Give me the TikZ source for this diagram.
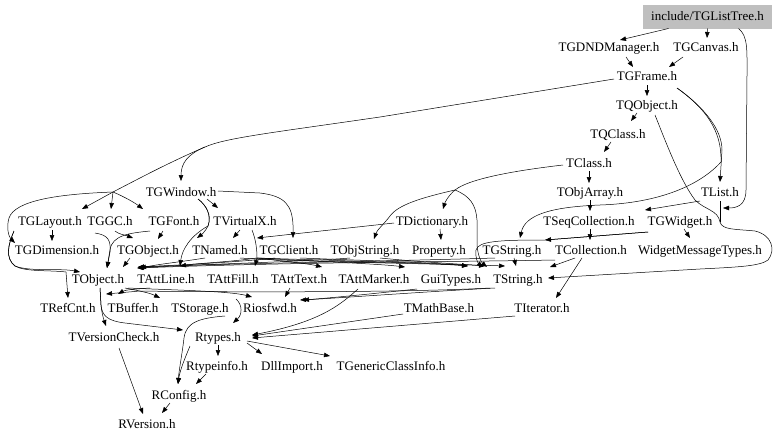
\documentclass[tikz,border=0pt]{standalone}
\usepackage{fontspec}
\setmainfont{Liberation Serif}
\usetikzlibrary{arrows.meta}
\definecolor{grey75}{HTML}{BFBFBF}
\newcommand\nd[3]{([shift={(#2,#3)}]#1.center)}
\begin{document}
\begin{tikzpicture}[x=1pt,y=-1pt,
 lbl/.style={inner sep=0pt,text height=8.6pt,text depth=0pt,font=\fontsize{13}{15}\selectfont},
 e/.style={line width=0.5pt,-{Triangle[length=6pt,width=4.5pt]}},
 ln/.style={line width=0.5pt}]
\useasboundingbox (0,0) rectangle (779,442);
\fill[white] (0,0) rectangle (779,442);
% nodes
\node[lbl,fill=grey75,minimum width=129pt,minimum height=24pt] (LT) at (707.5,16.5) {include/TGListTree.h};
\node[lbl] (DND) at (609,47) {TGDNDManager.h};
\node[lbl] (CAN) at (706,47) {TGCanvas.h};
\node[lbl] (FR) at (647,76) {TGFrame.h};
\node[lbl] (QO) at (647,105) {TQObject.h};
\node[lbl] (QC) at (618,134) {TQClass.h};
\node[lbl] (CL) at (589,163) {TClass.h};
\node[lbl] (OA) at (590,192) {TObjArray.h};
\node[lbl] (LI) at (720,192) {TList.h};
\node[lbl] (WIN) at (181,192) {TGWindow.h};
\node[lbl] (LAY) at (50,221) {TGLayout.h};
\node[lbl] (GC) at (110,221) {TGGC.h};
\node[lbl] (FONT) at (174,221) {TGFont.h};
\node[lbl] (VX) at (245,221) {TVirtualX.h};
\node[lbl] (DICT) at (432,221) {TDictionary.h};
\node[lbl] (SEQ) at (589,221) {TSeqCollection.h};
\node[lbl] (WID) at (680,221) {TGWidget.h};
\node[lbl] (DIM) at (57,250) {TGDimension.h};
\node[lbl] (GOBJ) at (148,250) {TGObject.h};
\node[lbl] (NAM) at (220,250) {TNamed.h};
\node[lbl] (CLI) at (289,250) {TGClient.h};
\node[lbl] (OSTR) at (365,250) {TObjString.h};
\node[lbl] (PROP) at (439,250) {Property.h};
\node[lbl] (GSTR) at (512,250) {TGString.h};
\node[lbl] (COLL) at (591,250) {TCollection.h};
\node[lbl] (WMT) at (700,250) {WidgetMessageTypes.h};
\node[lbl] (OBJ) at (98,279) {TObject.h};
\node[lbl] (ALINE) at (166,279) {TAttLine.h};
\node[lbl] (AFILL) at (233,279) {TAttFill.h};
\node[lbl] (ATEXT) at (299,279) {TAttText.h};
\node[lbl] (AMARK) at (374,279) {TAttMarker.h};
\node[lbl] (GUI) at (451,279) {GuiTypes.h};
\node[lbl] (STR) at (518,279) {TString.h};
\node[lbl] (REF) at (68,308) {TRefCnt.h};
\node[lbl] (BUF) at (133,308) {TBuffer.h};
\node[lbl] (STO) at (200,308) {TStorage.h};
\node[lbl] (RIO) at (270,308) {Riosfwd.h};
\node[lbl] (MATH) at (439,308) {TMathBase.h};
\node[lbl] (ITER) at (542,308) {TIterator.h};
\node[lbl] (VC) at (114,337) {TVersionCheck.h};
\node[lbl] (RT) at (218,337) {Rtypes.h};
\node[lbl] (RTI) at (217,366) {Rtypeinfo.h};
\node[lbl] (DLL) at (292,366) {DllImport.h};
\node[lbl] (GCI) at (391,366) {TGenericClassInfo.h};
\node[lbl] (RC) at (179,395) {RConfig.h};
\node[lbl] (RV) at (147,424) {RVersion.h};
% shared route points
\coordinate (tk) at (205,147);
\coordinate (tj) at (113,192);
\coordinate (vj) at (257,258);
\coordinate (cj) at (455,190);
\coordinate (rj) at (720,222);
% top
\draw[e] \nd{LT}{-39}{12} -- \nd{DND}{11}{-7};
\draw[e] \nd{LT}{0}{12} -- \nd{CAN}{1}{-9};
\draw[e] \nd{LT}{31}{12} .. controls (748,36) and (747,50) .. (747,75) -- (746,190) .. controls (746,206) and (736,208) .. \nd{WID}{43}{-13};
\draw[e] \nd{DND}{17}{10} -- \nd{FR}{-14}{-9};
\draw[e] \nd{CAN}{-23}{10} -- \nd{FR}{22}{-9};
\draw[e] \nd{FR}{0}{9} -- \nd{QO}{0}{-9};
% trunk from TGFrame
\draw[e] \nd{FR}{-33}{3} -- (380,117) .. controls (270,133) and (225,138) .. (tk) .. controls (188,154) and (181,163) .. \nd{WIN}{0}{-11};
\draw[ln] (tk) .. controls (170,162) and (140,178) .. (tj);
\draw[e] (tj) -- \nd{LAY}{32}{-12};
\draw[e] (tj) -- \nd{GC}{1}{-12};
\draw[e] (tj) .. controls (125,197) and (135,203) .. \nd{FONT}{-31}{-12};
\draw[e] (tj) .. controls (60,194) and (15,200) .. (9,218) .. controls (6,228) and (9,237) .. \nd{DIM}{-42}{-7};
\draw[e] \nd{FR}{30}{12} .. controls (705,108) and (722,130) .. (722,150) -- \nd{LI}{0}{-10};
\draw[e] \nd{FR}{30}{12} .. controls (705,108) and (722,130) .. (721,162) .. controls (700,185) and (660,203) .. (600,205) .. controls (550,207) and (525,215) .. \nd{GSTR}{8}{-12};
\draw[e] \nd{QO}{-10}{8} -- \nd{QC}{13}{-13};
\draw[e] \nd{QC}{-7}{8} -- \nd{CL}{15}{-11};
\draw[e] \nd{CL}{0}{8} -- \nd{OA}{-1}{-9};
\draw[ln] \nd{CL}{-26}{2} .. controls (520,170) and (470,178) .. (cj);
\draw[e] (cj) .. controls (449,195) and (445,202) .. \nd{DICT}{11}{-12};
\draw[e] (cj) .. controls (420,198) and (398,205) .. (390,216) .. controls (384,224) and (377,230) .. \nd{OSTR}{9}{-11};
\draw[e] (cj) .. controls (470,196) and (476,205) .. (477,220) -- (477,245) .. controls (478,256) and (481,262) .. \nd{STR}{-31}{-12};
\draw[e] \nd{OA}{0}{8} -- \nd{SEQ}{1}{-10};
\draw[e] \nd{LI}{-20}{9} -- \nd{SEQ}{56}{-11};
\draw[ln] \nd{LI}{0}{9} -- (rj);
\draw[e] (rj) .. controls (722,230) and (735,229) .. (755,231) .. controls (772,235) and (776,250) .. (768,260) .. controls (760,266) and (740,267) .. (700,269) -- \nd{STR}{30}{-1};
\draw[ln] \nd{QO}{8}{10} .. controls (665,140) and (680,180) .. (695,200) .. controls (705,210) and (718,210) .. (rj);
\draw[e] \nd{WID}{-32}{11} -- \nd{GSTR}{33}{-10};
\draw[e] \nd{WID}{-32}{11} -- (545,240) .. controls (500,240) and (478,241) .. (476,250) .. controls (475,258) and (478,263) .. \nd{STR}{-35}{-12};
\draw[e] \nd{WID}{4}{8} -- \nd{WMT}{-10}{-12};
\draw[e] \nd{SEQ}{1}{8} -- \nd{COLL}{-1}{-10};
\draw[e] \nd{COLL}{-16}{8} -- \nd{STR}{32}{-12};
\draw[e] \nd{COLL}{-9}{8} -- \nd{ITER}{14}{-10};
% bundle to TObject row
\draw[e] \nd{COLL}{-36}{10} .. controls (450,262) and (300,262) .. \nd{OBJ}{39}{-11};
\draw[e] \nd{GSTR}{-17}{8} .. controls (400,261) and (250,263) .. \nd{OBJ}{40}{-12};
\draw[e] \nd{OSTR}{-15}{8} .. controls (300,262) and (200,264) .. \nd{OBJ}{40}{-11};
\draw[e] \nd{OSTR}{15}{8} .. controls (420,262) and (460,264) .. \nd{STR}{-33}{-13};
\draw[e] \nd{CLI}{-14}{8} .. controls (240,262) and (180,265) .. \nd{OBJ}{40}{-12};
\draw[e] \nd{CLI}{11}{8} .. controls (380,261) and (440,263) .. \nd{GUI}{17}{-13};
\draw[e] \nd{NAM}{-15}{8} .. controls (180,262) and (160,264) .. \nd{OBJ}{42}{-11};
\draw[e] \nd{NAM}{20}{8} .. controls (300,262) and (450,264) .. \nd{STR}{-13}{-13};
\draw[e] \nd{GOBJ}{-18}{8} -- \nd{OBJ}{25}{-12};
\draw[e] \nd{GC}{-15}{12} .. controls (108,235) and (111,240) .. (110,252) -- \nd{OBJ}{9}{-11};
\draw[e] \nd{FONT}{-24}{10} .. controls (130,233) and (112,235) .. (110,250) -- \nd{OBJ}{9}{-11};
\draw[e] \nd{GC}{5}{10} .. controls (118,234) and (125,235) .. \nd{GOBJ}{-15}{-12};
\draw[e] \nd{FONT}{-11}{10} -- \nd{GOBJ}{10}{-11};
\draw[e] \nd{WIN}{17}{7} .. controls (206,205) and (212,215) .. (208,226) .. controls (205,232) and (201,235) .. \nd{NAM}{-23}{-12};
\draw[e] \nd{WIN}{17}{7} .. controls (206,205) and (212,215) .. (208,226) .. controls (190,236) and (182,250) .. \nd{ALINE}{14}{-13};
\draw[e] \nd{WIN}{26}{7} -- \nd{VX}{-27}{-13};
\draw[e] \nd{WIN}{37}{-1} -- (260,193) .. controls (285,196) and (292,205) .. (293,225) -- \nd{CLI}{4}{-12};
\draw[e] \nd{VX}{-5}{9} -- \nd{NAM}{13}{-12};
\draw[e] \nd{DICT}{-38}{2} -- \nd{NAM}{37}{-12};
\draw[e] \nd{DICT}{8}{8} -- \nd{PROP}{2}{-10};
\draw[ln] \nd{VX}{7}{9} .. controls (256,240) and (257,250) .. (vj);
\draw[e] (vj) .. controls (230,262) and (200,263) .. \nd{ALINE}{14}{-13};
\draw[e] (vj) -- \nd{AFILL}{22}{-13};
\draw[e] (vj) .. controls (290,262) and (310,264) .. \nd{ATEXT}{23}{-12};
\draw[e] (vj) .. controls (330,262) and (380,264) .. \nd{AMARK}{31}{-12};
\draw[e] (vj) .. controls (350,261) and (430,263) .. \nd{GUI}{17}{-13};
\draw[e] \nd{GSTR}{2}{8} -- \nd{STR}{-2}{-13};
% lower rows
\draw[e] \nd{OBJ}{27}{9} .. controls (140,291) and (150,293) .. \nd{STO}{-40}{-10};
\draw[e] \nd{OBJ}{30}{9} .. controls (170,290) and (230,291) .. \nd{RIO}{-18}{-11};
\draw[e] \nd{ALINE}{-16}{9} .. controls (135,289) and (125,290) .. \nd{BUF}{-15}{-14};
\draw[e] \nd{ATEXT}{-9}{9} -- \nd{RIO}{15}{-11};
\draw[e] \nd{STR}{-28}{9} .. controls (400,293) and (200,292) .. (140,291) -- \nd{BUF}{-27}{-14};
\draw[e] \nd{STR}{-23}{9} .. controls (420,292) and (340,298) .. \nd{RIO}{30}{-8};
\draw[e] \nd{GUI}{-34}{10} .. controls (380,293) and (330,298) .. \nd{RIO}{33}{-8};
\draw[e] \nd{AMARK}{-16}{10} .. controls (340,305) and (320,322) .. \nd{RT}{34}{-2};
\draw[e] \nd{MATH}{-36}{6} -- \nd{RT}{34}{-1};
\draw[e] \nd{ITER}{-27}{8} -- \nd{RT}{34}{1};
\draw[e] \nd{OBJ}{2}{9} -- (101,305) .. controls (102,315) and (104,320) .. \nd{VC}{-8}{-11};
\draw[e] \nd{OBJ}{2}{9} -- (101,305) .. controls (102,316) and (108,321) .. (125,323) -- \nd{RT}{-35}{-7};
\draw[e] \nd{STO}{36}{-9} .. controls (243,305) and (242,315) .. \nd{RT}{15}{-14};
\draw[e] \nd{STO}{25}{8} .. controls (200,318) and (186,322) .. (184,338) .. controls (182,355) and (179,370) .. \nd{RC}{-1}{-11};
\draw[e] \nd{RT}{-28}{9} .. controls (185,358) and (180,370) .. \nd{RC}{-1}{-11};
\draw[e] \nd{RT}{0}{8} -- \nd{RTI}{1}{-10};
\draw[e] \nd{RT}{29}{6} -- \nd{DLL}{-30}{-12};
\draw[e] \nd{RT}{29}{4} -- \nd{GCI}{-61}{-10};
\draw[e] \nd{RTI}{-11}{8} -- \nd{RC}{17}{-11};
\draw[e] \nd{RC}{-9}{8} -- \nd{RV}{15}{-11};
\draw[e] \nd{VC}{5}{11} -- \nd{RV}{-4}{-10};
% left loop
\draw[e] \nd{LAY}{-36}{10} .. controls (8,245) and (5,258) .. (15,266) .. controls (25,272) and (50,270) .. (66,272) -- \nd{REF}{0}{-10};
\draw[e] \nd{LAY}{-36}{10} .. controls (8,245) and (5,258) .. (15,266) .. controls (30,272) and (60,268) .. \nd{OBJ}{-18}{-7};
\draw[e] \nd{LAY}{2}{9} -- \nd{DIM}{-5}{-9};
\end{tikzpicture}
\end{document}
